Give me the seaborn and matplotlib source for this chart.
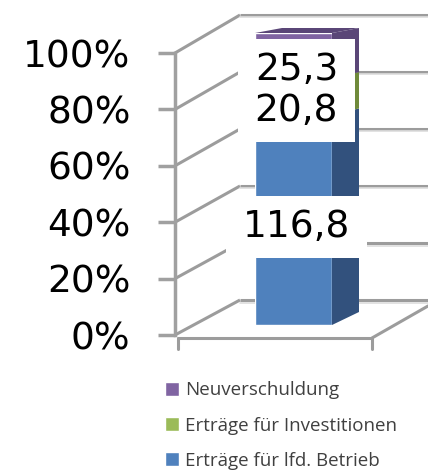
import matplotlib
matplotlib.use('Agg')
import matplotlib.pyplot as plt
from matplotlib.patches import Polygon, Rectangle
from matplotlib.transforms import IdentityTransform
from matplotlib.ticker import FuncFormatter
import numpy as np
import pandas as pd
import seaborn as sns


# one 100%-stacked 3D-looking column (Excel style)

categories = ['Erträge für lfd. Betrieb', 'Erträge für Investitionen', 'Neuverschuldung']
values = [116.8, 20.8, 25.3]
value_labels = ['116,8', '20,8', '25,3']
front_colors = ['#4F81BD', '#9BBB59', '#8064A2']
side_colors = ['#32517D', '#6F8A3A', '#5A4677']
tick_values = [0, 20, 40, 60, 80, 100]

W, H = 428, 473
GRID = '#9C9C9C'


def frac(x0, y0, x1, y1):
    # pixel box (top-left origin) -> figure fraction rect
    return [x0 / W, (H - y1) / H, (x1 - x0) / W, (y1 - y0) / H]


def initiate():
    sns.set_style('white')
    plt.rcParams['font.family'] = ['DejaVu Sans']

    fig = plt.figure(figsize=(W / 100, H / 100), dpi=100)

    # background: walls, floor and gridlines in pixel coordinates
    bg = fig.add_axes([0, 0, 1, 1])
    bg.set_xlim(0, W)
    bg.set_ylim(H, 0)
    bg.axis('off')

    def y_front(p):
        return 335 - p * 2.82

    def y_back(p):
        return 300 - p * 2.85

    for p in tick_values:
        bg.plot([175, 240], [y_front(p), y_back(p)], color=GRID, lw=2.2, solid_capstyle='butt')
        bg.plot([240, W], [y_back(p), y_back(p)], color=GRID, lw=2.2, solid_capstyle='butt')
        bg.plot([240, W], [y_back(p) + 2.5, y_back(p) + 2.5], color='#DDDDDD', lw=1.2)
    bg.plot([178, 372], [338, 338], color=GRID, lw=2.2)
    bg.plot([372, W], [338, 306], color=GRID, lw=2.2)
    for xx in (178, 372):
        bg.plot([xx, xx], [338, 349], color=GRID, lw=2.2)

    # front value axis
    ax_y = fig.add_axes(frac(175, 53, 176, 335))
    ax_y.set_ylim(0, 100)
    ax_y.set_xticks([])
    ax_y.set_yticks(tick_values)
    ax_y.yaxis.set_major_formatter(FuncFormatter(lambda v, _: '%d%%' % v))
    for s in ('top', 'right', 'bottom'):
        ax_y.spines[s].set_visible(False)
    ax_y.spines['left'].set_color('#A0A0A0')
    ax_y.spines['left'].set_linewidth(2.5)
    ax_y.tick_params(axis='y', direction='out', length=12, width=2.5, color='#A0A0A0',
                     pad=20, labelsize=27, labelcolor='black', left=True)
    ax_y.patch.set_alpha(0)

    # the column itself
    total = sum(values)
    pct = [v / total * 100 for v in values]
    cum = np.cumsum(pct)

    ax = fig.add_axes(frac(255, 33, 332, 325))
    ax.patch.set_alpha(0)
    for i in reversed(range(len(values))):
        data = pd.DataFrame({'cat': ['x'], 'pct': [cum[i]]})
        sns.barplot(data=data, x='cat', y='pct', color=front_colors[i], width=0.8,
                    saturation=1, ax=ax, label=categories[i])
    handles, labels = ax.get_legend_handles_labels()
    if ax.get_legend() is not None:
        ax.get_legend().remove()
    ax.set_xlim(-0.4, 0.4)
    ax.set_ylim(0, 100)
    ax.axis('off')

    # depth faces of the column (deeper offset at the floor, flatter at the top)
    ddx = 27 * 0.8 / 77

    def ddy(v):
        return (13 - v / 100 * 8) * 100 / 292

    bottoms = np.concatenate([[0], cum[:-1]])
    for i in range(len(values)):
        b, t = bottoms[i], cum[i]
        ax.add_patch(Polygon([(0.4, b), (0.4 + ddx, b + ddy(b)), (0.4 + ddx, t + ddy(t)), (0.4, t)],
                             closed=True, color=side_colors[i], clip_on=False, lw=0))
    ax.add_patch(Polygon([(-0.4, 100), (0.4, 100), (0.4 + ddx, 100 + ddy(100)),
                          (-0.4 + ddx, 100 + ddy(100))],
                         closed=True, color=side_colors[-1], clip_on=False, lw=0))

    # data labels; white boxes go behind all texts so overlapping boxes hide no digits
    offsets = [-5, -10, -10]
    texts = []
    for i in range(len(values)):
        mid = (bottoms[i] + cum[i]) / 2
        t = ax.annotate(value_labels[i], xy=(0.03, mid), xytext=(0, offsets[i]),
                        textcoords='offset points', ha='center', va='center',
                        fontsize=27, color='black', zorder=11, annotation_clip=False)
        texts.append(t)
    fig.canvas.draw()
    renderer = fig.canvas.get_renderer()
    for t in texts:
        bb = t.get_window_extent(renderer)
        ax.add_patch(Rectangle((bb.x0 - 17, bb.y0 - 13), bb.width + 34, bb.height + 26,
                               transform=IdentityTransform(), fc='white', ec='none',
                               zorder=10, clip_on=False))

    # legend, reversed like Excel
    fig.legend(handles, labels, loc='upper left', bbox_to_anchor=(156 / W, (H - 372) / H),
               frameon=False, handlelength=0.75, handleheight=0.75,
               handletextpad=0.3, labelspacing=0.92, borderpad=0,
               prop={'family': 'Open Sans', 'size': 13.5}, labelcolor='#404040')

    fig.savefig('out.png', dpi=100)


if __name__ == "__main__":
    initiate()
